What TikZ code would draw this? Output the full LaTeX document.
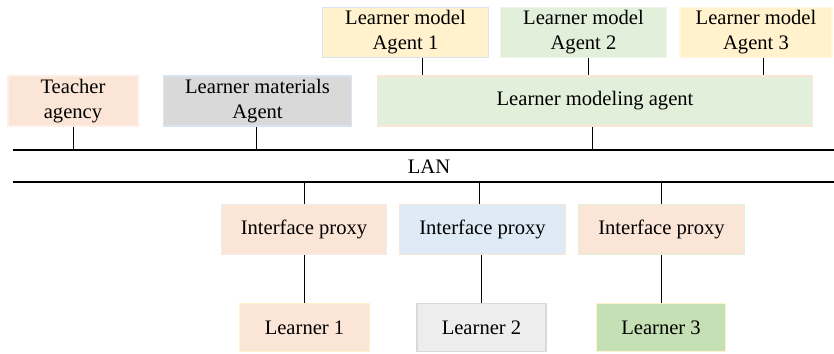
\documentclass[tikz,border=0pt]{standalone}
\usepackage{fontspec}
\setmainfont{Liberation Serif}
\usetikzlibrary{positioning}
\definecolor{peach}{HTML}{FBE5D6}
\definecolor{cream}{HTML}{FFF2CC}
\definecolor{mint}{HTML}{E2EFDA}
\definecolor{sky}{HTML}{DEEBF7}
\definecolor{skyline}{HTML}{DAE3F3}
\definecolor{silver}{HTML}{D9D9D9}
\definecolor{pale}{HTML}{EDEDED}
\definecolor{leaf}{HTML}{C5E0B4}

\begin{document}
\begin{tikzpicture}[x=1pt, y=-1pt, box/.style={rectangle, line width=1.5pt, inner sep=0pt, align=center, font=\fontsize{20.6}{25}\selectfont, minimum height=50pt}, link/.style={draw=black, line width=0.8pt}, bus/.style={draw=black, line width=2pt}]
    \useasboundingbox (0,0) rectangle (834,353);

    %Nodes
    \node[box, fill=cream, draw=skyline, minimum width=166pt](lma1) at (405.5,32.5){Learner model\\Agent 1};
    \node[box, fill=mint, draw=mint!60, minimum width=166pt](lma2) at (583.5,32.5){Learner model\\Agent 2};
    \node[box, fill=cream, draw=cream!60, minimum width=152pt](lma3) at (756,32.5){Learner model\\Agent 3};
    \node[box, fill=peach, draw=peach!60, minimum width=130pt](teacher) at (73,101){Teacher\\agency};
    \node[box, fill=silver, draw=skyline, minimum width=188pt](materials) at (257.5,101){Learner materials\\Agent};
    \node[box, fill=mint, draw=peach, minimum width=435pt](modeling) at (595,101){Learner modeling agent};
    \node[box, fill=peach, draw=pale, minimum width=165pt](proxy1) at (304,229.5){Interface proxy};
    \node[box, fill=sky, draw=peach, minimum width=166pt](proxy2) at (482.5,229.5){Interface proxy};
    \node[box, fill=peach, draw=mint, minimum width=166pt](proxy3) at (661.5,229.5){Interface proxy};
    \node[box, fill=peach, draw=cream, minimum width=130pt, minimum height=48pt](learner1) at (304.5,327.5){Learner 1};
    \node[box, fill=pale, draw=silver, minimum width=129pt, minimum height=48pt](learner2) at (481.5,327.5){Learner 2};
    \node[box, fill=leaf, draw=cream, minimum width=129pt, minimum height=48pt](learner3) at (661,327.5){Learner 3};
    \node[font=\fontsize{20.6}{25}\selectfont](lan) at (429,167){LAN};

    %Bus
    \coordinate (topW) at (13,150);
    \coordinate (topE) at (834,150);
    \coordinate (botW) at (13,182);
    \coordinate (botE) at (834,182);
    \draw[bus] (topW) -- (topE);
    \draw[bus] (botW) -- (botE);

    %Lines
    \draw[link] (teacher.south) -- (teacher.south |- topW);
    \draw[link] ([xshift=-1.5pt]materials.south) -- ([xshift=-1.5pt]materials.south |- topW);
    \draw[link] ([xshift=-3pt]modeling.south) -- ([xshift=-3pt]modeling.south |- topW);
    \draw[link] ([xshift=16.5pt]lma1.south) -- ([xshift=16.5pt]lma1.south |- modeling.north);
    \draw[link] ([xshift=4.5pt]lma2.south) -- ([xshift=4.5pt]lma2.south |- modeling.north);
    \draw[link] ([xshift=7pt]lma3.south) -- ([xshift=7pt]lma3.south |- modeling.north);
    \draw[link] (proxy1.north |- botW) -- (proxy1.north);
    \draw[link] ([xshift=-3.5pt]proxy2.north |- botW) -- ([xshift=-3.5pt]proxy2.north);
    \draw[link] (proxy3.north |- botW) -- (proxy3.north);
    \draw[link] (proxy1.south) -- (proxy1.south |- learner1.north);
    \draw[link] ([xshift=-1.5pt]proxy2.south) -- ([xshift=-1.5pt]proxy2.south |- learner2.north);
    \draw[link] (proxy3.south) -- (proxy3.south |- learner3.north);

\end{tikzpicture}
\end{document}
